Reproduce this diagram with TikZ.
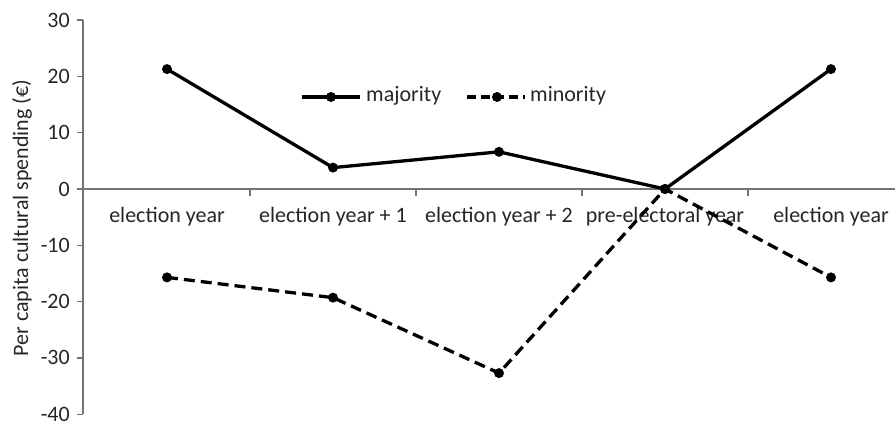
\documentclass[tikz,border=0pt]{standalone}
\usepackage{fontspec}
\setmainfont{Carlito}
\usetikzlibrary{positioning}

\begin{document}
\begin{tikzpicture}[x=1pt,y=1pt,
  axisline/.style={draw=black!55, line width=1.3pt},
  serie/.style={line width=3.3pt, line join=round},
  dashserie/.style={serie, dash pattern=on 11pt off 6pt},
  dot/.style={circle, fill=black, inner sep=0pt, minimum size=10pt},
  lbl/.style={font=\fontsize{22}{22}\selectfont, text=black!85, inner sep=0pt}]
  \useasboundingbox (0,0) rectangle (895,429);

  % axes
  \coordinate (ytop) at (83,409);
  \coordinate (ybot) at (83,15);
  \coordinate (xleft) at (83,240);
  \coordinate (xright) at (895,240);
  \draw[axisline] (ytop) -- (ybot);
  \draw[axisline] (xleft) -- (xright);

  % y ticks and labels
  \foreach \v in {30,20,...,-40} {
    \draw[axisline] (77,{240+5.63*\v}) -- (83,{240+5.63*\v});
    \node[lbl, anchor=east] (ytick\v) at (70,{240+5.63*\v}) {\v};
  }

  % category boundaries
  \foreach \b in {250,416,582,748}
    \draw[axisline] (\b,240) -- (\b,233);

  % category labels
  \foreach \t [count=\i from 0] in {election year,election year + 1,election year + 2,pre-electoral year,election year}
    \node[lbl] (cat\i) at ({167+166*\i},212) {\t};

  \node[lbl, rotate=90] (ylabel) at (22,211) {Per capita cultural spending (€)};

  % majority
  \foreach \v [count=\i from 0] in {21.3,3.8,6.6,0,21.3}
    \coordinate (maj\i) at ({167+166*\i},{240+5.63*\v});
  \draw[serie] (maj0) -- (maj1) -- (maj2) -- (maj3) -- (maj4);
  \foreach \i in {0,...,4}
    \node[dot] (majdot\i) at (maj\i) {};

  % minority
  \foreach \v [count=\i from 0] in {-15.7,-19.3,-32.7,0,-15.7}
    \coordinate (min\i) at ({167+166*\i},{240+5.63*\v});
  \draw[dashserie] (min0) -- (min1) -- (min2) -- (min3) -- (min4);
  \foreach \i in {0,...,4}
    \node[dot] (mindot\i) at (min\i) {};

  % legend
  \coordinate (legA) at (302,332);
  \coordinate (legB) at (360,332);
  \draw[serie] (legA) -- (legB);
  \node[dot] (legdotA) at (331,332) {};
  \node[lbl, anchor=west] (legmaj) at (366,333) {majority};
  \coordinate (legC) at (467,332);
  \coordinate (legD) at (525,332);
  \draw[dashserie, dash pattern=on 9pt off 5pt] (legC) -- (legD);
  \node[dot] (legdotB) at (497,332) {};
  \node[lbl, anchor=west] (legmin) at (530,333) {minority};
\end{tikzpicture}
\end{document}
